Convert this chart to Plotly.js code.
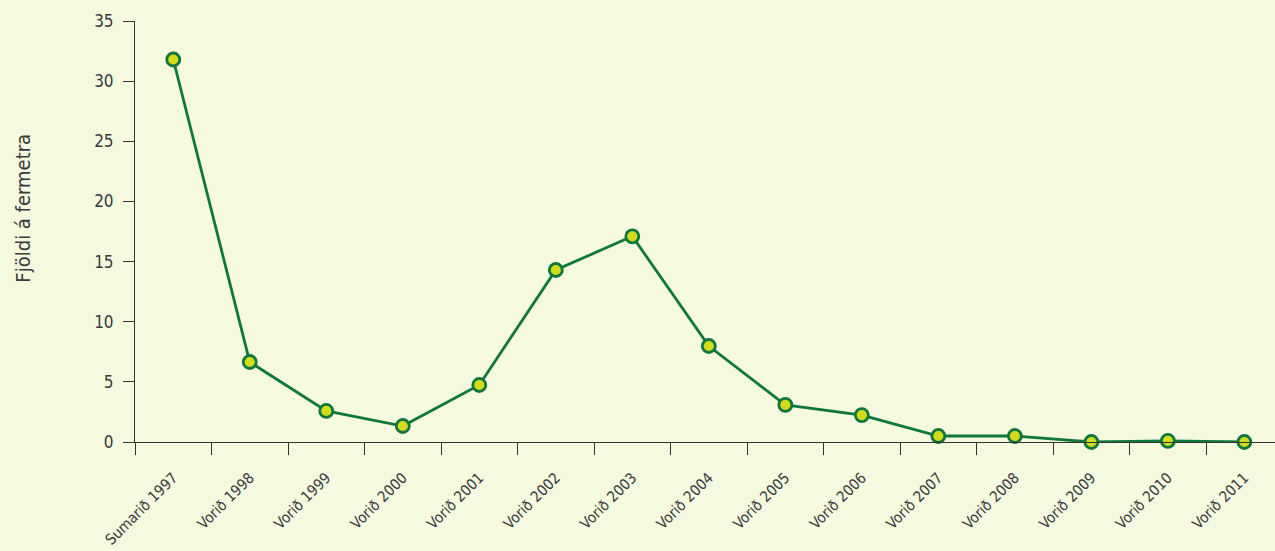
<!DOCTYPE html>
<html>
<head>
<meta charset="utf-8">
<script src="https://cdn.plot.ly/plotly-3.0.1.min.js"></script>
<style>
  html, body { margin: 0; padding: 0; background: #f4f9e0; }
  #plot { width: 1275px; height: 551px; }
</style>
</head>
<body>
<div id="plot"></div>
<script>
const seasons = ['Sumarið 1997', 'Vorið 1998', 'Vorið 1999', 'Vorið 2000', 'Vorið 2001',
  'Vorið 2002', 'Vorið 2003', 'Vorið 2004', 'Vorið 2005', 'Vorið 2006', 'Vorið 2007',
  'Vorið 2008', 'Vorið 2009', 'Vorið 2010', 'Vorið 2011'];
const perSquareMetre = [31.8, 6.65, 2.58, 1.33, 4.74, 14.3, 17.1, 7.98, 3.08, 2.24, 0.5, 0.5, 0, 0.1, 0];
const yTicks = [0, 5, 10, 15, 20, 25, 30, 35];

document.addEventListener('DOMContentLoaded', function () {
  const fontFamily = '"DejaVu Sans Condensed", "Liberation Sans Narrow", sans-serif';
  const textColor = '#3a3a3a';

  const trace = {
    x: seasons,
    y: perSquareMetre,
    type: 'scatter',
    mode: 'lines+markers',
    line: { color: '#10773a', width: 2.8 },
    marker: { size: 13, color: '#d3dc1c', line: { color: '#10773a', width: 2.8 } },
    cliponaxis: false,
    hoverinfo: 'x+y',
  };

  const layout = {
    width: 1275,
    height: 551,
    margin: { l: 135, r: 0, t: 21, b: 109 },
    paper_bgcolor: '#f4f9e0',
    plot_bgcolor: '#f4f9e0',
    showlegend: false,
    font: { family: fontFamily, color: textColor, size: 16 },
    xaxis: {
      type: 'category',
      range: [-0.5, 14.4],
      tickson: 'boundaries',
      ticks: 'outside',
      ticklen: 12,
      tickcolor: '#333333',
      tickwidth: 1,
      ticklabelstandoff: 20,
      showline: true,
      linecolor: '#333333',
      linewidth: 1,
      showgrid: false,
      zeroline: false,
      tickangle: -45,
      tickfont: { size: 15, color: textColor },
    },
    yaxis: {
      range: [0, 35],
      tickvals: yTicks,
      ticks: 'outside',
      ticklen: 11,
      tickcolor: '#333333',
      ticklabelstandoff: 6,
      showline: true,
      linecolor: '#333333',
      showgrid: false,
      zeroline: false,
      tickfont: { size: 17, color: textColor },
    },
    annotations: [{
      text: 'Fjöldi á fermetra',
      xref: 'paper', yref: 'paper',
      x: -0.098, y: 0.555,
      xanchor: 'center', yanchor: 'middle',
      textangle: -90,
      showarrow: false,
      font: { size: 20, color: textColor },
    }],
  };

  Plotly.newPlot('plot', [trace], layout, { displayModeBar: false, staticPlot: true });
});
</script>
</body>
</html>
